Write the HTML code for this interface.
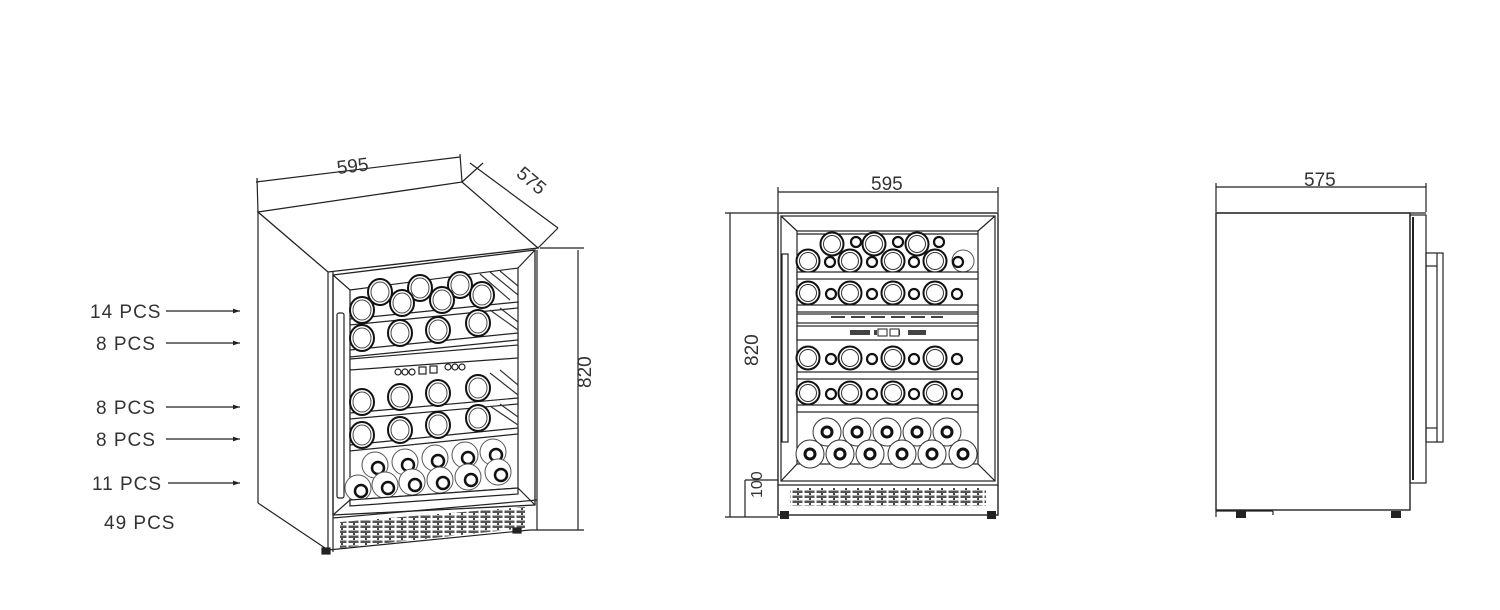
<!DOCTYPE html>
<html><head><meta charset="utf-8"><style>
html,body{margin:0;padding:0;background:#fff}
svg{display:block}
text{font-family:"Liberation Sans",sans-serif;fill:#333}
</style></head><body>
<svg width="1500" height="610" viewBox="0 0 1500 610" xmlns="http://www.w3.org/2000/svg">
<defs>
<g id="b"><circle r="11.5" fill="#fff" stroke="#111" stroke-width="2"/><circle r="8.5" fill="none" stroke="#333" stroke-width="1"/></g>
<g id="s"><circle r="5" fill="#fff" stroke="#111" stroke-width="2.2"/></g>
<g id="n"><circle r="14" fill="#fff" stroke="#333" stroke-width="1"/><circle r="5" fill="#fff" stroke="#111" stroke-width="3"/></g>
<g id="e"><ellipse rx="12" ry="13" fill="#fff" stroke="#111" stroke-width="2"/><ellipse rx="9" ry="10" fill="none" stroke="#444" stroke-width="1"/></g>
<g id="k"><circle r="13" fill="#fff" stroke="#555" stroke-width="1"/><circle cx="3" cy="3" r="6" fill="#fff" stroke="#111" stroke-width="2.5"/></g>
<pattern id="gr" width="12" height="5" patternUnits="userSpaceOnUse"><rect x="0.5" y="0.5" width="10" height="2.5" fill="#555"/><rect x="5" y="3" width="2" height="2" fill="#444"/></pattern>
<marker id="ar" markerWidth="6" markerHeight="4" refX="6" refY="2" orient="auto"><path d="M0,0 L6,2 L0,4z" fill="#222"/></marker>
</defs>
<g fill="none" stroke="#222" stroke-width="1.2">

<!-- ===== LEFT ISO VIEW ===== -->
<line x1="256" y1="182" x2="460" y2="157"/>
<line x1="257" y1="178" x2="258" y2="212"/>
<line x1="460" y1="154" x2="462" y2="182"/>
<line x1="470" y1="163" x2="558" y2="228"/>
<line x1="462" y1="182" x2="483" y2="163"/>
<line x1="538" y1="248" x2="558" y2="228"/>
<line x1="578" y1="250" x2="578" y2="530"/>
<line x1="540" y1="248" x2="584" y2="248"/>
<line x1="530" y1="530" x2="584" y2="530"/>
<polygon points="258,212 462,182 538,248 328,272" stroke-width="1.3"/>
<line x1="258" y1="212" x2="258" y2="503"/>
<line x1="258" y1="503" x2="328" y2="550"/>
<line x1="328" y1="272" x2="328" y2="550"/>
<line x1="537" y1="250" x2="537" y2="530"/>
<line x1="328" y1="550" x2="530" y2="530"/>
<line x1="333" y1="552" x2="333" y2="272"/>
<polygon points="333,275 535,250 535,505 333,515" stroke-width="1.3"/>
<polygon points="350,290 518,268 518,488 350,500"/>
<line x1="333" y1="275" x2="350" y2="290"/><line x1="535" y1="250" x2="518" y2="268"/>
<line x1="333" y1="515" x2="350" y2="500"/><line x1="535" y1="505" x2="518" y2="488"/>
<rect x="337" y="313" width="7" height="185" rx="2"/>
<polygon points="350,319 518,302 518,308 350,325" fill="#fff"/>
<polygon points="350,350 518,333 518,340 350,357" fill="#fff"/>
<polygon points="350,359 518,345 518,358 350,370" fill="#fff"/>
<polygon points="350,413 518,398 518,404 350,419" fill="#fff"/>
<polygon points="350,445 518,428 518,434 350,451" fill="#fff"/>
<g stroke="#333">
<line x1="490" y1="272" x2="518" y2="295"/><line x1="500" y1="271" x2="518" y2="286"/><line x1="480" y1="274" x2="510" y2="300"/>
<line x1="490" y1="310" x2="518" y2="330"/><line x1="500" y1="308" x2="518" y2="322"/>
<line x1="490" y1="373" x2="518" y2="395"/><line x1="500" y1="370" x2="518" y2="385"/>
<line x1="490" y1="406" x2="518" y2="425"/><line x1="500" y1="404" x2="518" y2="417"/>
</g>
</g>
<g>
<use href="#e" x="380" y="292"/><use href="#e" x="420" y="288"/><use href="#e" x="460" y="285"/>
<use href="#e" x="362" y="310"/><use href="#e" x="402" y="303"/><use href="#e" x="442" y="300"/><use href="#e" x="482" y="295"/>
<use href="#e" x="362" y="338"/><use href="#e" x="400" y="333"/><use href="#e" x="438" y="330"/><use href="#e" x="478" y="323"/>
<use href="#e" x="362" y="402"/><use href="#e" x="400" y="397"/><use href="#e" x="438" y="393"/><use href="#e" x="478" y="388"/>
<use href="#e" x="362" y="435"/><use href="#e" x="400" y="430"/><use href="#e" x="438" y="425"/><use href="#e" x="478" y="418"/>
<use href="#k" x="375" y="465"/><use href="#k" x="405" y="462"/><use href="#k" x="435" y="458"/><use href="#k" x="465" y="455"/><use href="#k" x="493" y="452"/>
<use href="#k" x="358" y="488"/><use href="#k" x="385" y="485"/><use href="#k" x="412" y="482"/><use href="#k" x="440" y="480"/><use href="#k" x="468" y="477"/><use href="#k" x="498" y="472"/>
</g>
<g fill="none" stroke="#222" stroke-width="1.2">
<circle cx="398" cy="372" r="3"/><circle cx="405" cy="372" r="3"/><circle cx="412" cy="372" r="3"/>
<rect x="419" y="367" width="7" height="7"/><rect x="430" y="366" width="7" height="7"/>
<circle cx="448" cy="367" r="3"/><circle cx="455" cy="367" r="3"/><circle cx="462" cy="367" r="3"/>
<polygon points="350,500 518,488 518,494 350,506" fill="#fff"/>
<polygon points="340,522 525,507 525,528 340,548" fill="url(#gr)" stroke="none"/>
<line x1="333" y1="518" x2="537" y2="500"/>
<rect x="322" y="548" width="8" height="6" fill="#222"/>
<rect x="513" y="528" width="8" height="5" fill="#222"/>
</g>

<g font-size="19" letter-spacing="1">
<text x="90" y="318">14 PCS</text>
<text x="96" y="350">8 PCS</text>
<text x="96" y="414">8 PCS</text>
<text x="96" y="446">8 PCS</text>
<text x="92" y="490">11 PCS</text>
<text x="104" y="529">49 PCS</text>
</g>
<g stroke="#222" stroke-width="1.2" marker-end="url(#ar)">
<line x1="166" y1="311" x2="240" y2="311"/><line x1="166" y1="343" x2="240" y2="343"/>
<line x1="166" y1="407" x2="240" y2="407"/><line x1="166" y1="439" x2="240" y2="439"/>
<line x1="168" y1="483" x2="240" y2="483"/>
</g>
<text x="337" y="172" font-size="19" transform="rotate(-7 355 168)">595</text>
<text x="508" y="185" font-size="19" transform="rotate(40 525 190)">575</text>
<text x="575" y="404" font-size="19" transform="rotate(-90 575 388)">820</text>

<!-- ===== MIDDLE FRONT VIEW ===== -->
<g fill="none" stroke="#222" stroke-width="1.2">
<line x1="778" y1="192" x2="998" y2="192"/><line x1="778" y1="187" x2="778" y2="212"/><line x1="998" y1="187" x2="998" y2="212"/>
<line x1="730" y1="213" x2="730" y2="517"/><line x1="725" y1="213" x2="778" y2="213"/><line x1="725" y1="517" x2="778" y2="517"/>
<line x1="745" y1="480" x2="778" y2="480"/><line x1="745" y1="480" x2="745" y2="517"/>
<rect x="778" y="213" width="220" height="302" stroke-width="1.4"/>
<rect x="781" y="216" width="214" height="265"/>
<rect x="797" y="231" width="181" height="233"/>
<line x1="781" y1="216" x2="797" y2="231"/><line x1="995" y1="216" x2="978" y2="231"/>
<line x1="781" y1="481" x2="797" y2="464"/><line x1="995" y1="481" x2="978" y2="464"/>
<rect x="782" y="254" width="6" height="188"/>
<line x1="797" y1="234" x2="978" y2="234"/>
<line x1="778" y1="485" x2="998" y2="485"/>
</g>
<g>
<use href="#b" x="832" y="244"/><use href="#b" x="874" y="244"/><use href="#b" x="917" y="244"/>
<use href="#s" x="856" y="242"/><use href="#s" x="898" y="242"/><use href="#s" x="939" y="242"/>
<use href="#b" x="808" y="261"/><use href="#b" x="850" y="261"/><use href="#b" x="893" y="261"/><use href="#b" x="935" y="261"/><circle cx="963" cy="261" r="11" fill="#fff" stroke="#555"/>
<use href="#s" x="830" y="262"/><use href="#s" x="872" y="262"/><use href="#s" x="914" y="262"/><use href="#s" x="958" y="262"/>
</g>
<g fill="#fff" stroke="#222" stroke-width="1.2"><rect x="797" y="272" width="181" height="7"/></g>
<g>
<use href="#b" x="808" y="293"/><use href="#b" x="850" y="293"/><use href="#b" x="893" y="293"/><use href="#b" x="935" y="293"/>
<use href="#s" x="831" y="294"/><use href="#s" x="872" y="294"/><use href="#s" x="914" y="294"/><use href="#s" x="957" y="294"/>
</g>
<g fill="#fff" stroke="#222" stroke-width="1.2">
<rect x="797" y="305" width="181" height="7"/>
<rect x="797" y="314" width="181" height="9"/>
<rect x="797" y="326" width="181" height="14"/>
</g>
<g fill="#444">
<rect x="831" y="316" width="14" height="2"/><rect x="851" y="316" width="14" height="2"/><rect x="871" y="316" width="14" height="2"/><rect x="891" y="316" width="14" height="2"/><rect x="911" y="316" width="14" height="2"/><rect x="931" y="316" width="12" height="2"/>
<rect x="850" y="330" width="20" height="5"/><rect x="874" y="330" width="3" height="5"/><rect x="897" y="330" width="3" height="5"/><rect x="908" y="330" width="18" height="5"/>
</g>
<g fill="none" stroke="#222" stroke-width="1"><rect x="878" y="329" width="9" height="7" fill="#fff"/><rect x="890" y="329" width="9" height="7" fill="#fff"/></g>
<g>
<use href="#b" x="808" y="358"/><use href="#b" x="850" y="358"/><use href="#b" x="893" y="358"/><use href="#b" x="935" y="358"/>
<use href="#s" x="831" y="359"/><use href="#s" x="872" y="359"/><use href="#s" x="914" y="359"/><use href="#s" x="957" y="359"/>
</g>
<g fill="#fff" stroke="#222" stroke-width="1.2"><rect x="797" y="372" width="181" height="7"/></g>
<g>
<use href="#b" x="808" y="393"/><use href="#b" x="850" y="393"/><use href="#b" x="893" y="393"/><use href="#b" x="935" y="393"/>
<use href="#s" x="831" y="394"/><use href="#s" x="872" y="394"/><use href="#s" x="914" y="394"/><use href="#s" x="957" y="394"/>
</g>
<g fill="#fff" stroke="#222" stroke-width="1.2"><rect x="797" y="405" width="181" height="7"/></g>
<g>
<use href="#n" x="827" y="432"/><use href="#n" x="857" y="432"/><use href="#n" x="887" y="432"/><use href="#n" x="917" y="432"/><use href="#n" x="947" y="432"/>
<use href="#n" x="810" y="454"/><use href="#n" x="840" y="454"/><use href="#n" x="870" y="454"/><use href="#n" x="902" y="454"/><use href="#n" x="932" y="454"/><use href="#n" x="963" y="454"/>
</g>
<rect x="790" y="488" width="196" height="18" fill="url(#gr)"/>
<rect x="780" y="511" width="9" height="8" fill="#222"/><rect x="987" y="511" width="9" height="8" fill="#222"/>
<text x="871" y="190" font-size="19">595</text>
<text x="742" y="382" font-size="19" transform="rotate(-90 742 366)">820</text>
<text x="750" y="510" font-size="16" transform="rotate(-90 750 498)">100</text>

<!-- ===== RIGHT SIDE VIEW ===== -->
<g fill="none" stroke="#222" stroke-width="1.2">
<line x1="1216" y1="187" x2="1426" y2="187"/><line x1="1216" y1="183" x2="1216" y2="212"/><line x1="1426" y1="183" x2="1426" y2="212"/>
<rect x="1216" y="213" width="194" height="297" stroke-width="1.4"/>
<line x1="1216" y1="213" x2="1426" y2="213"/>
<rect x="1410" y="215" width="16" height="268"/>
<line x1="1413" y1="217" x2="1413" y2="480" stroke-width="2"/>
<rect x="1426" y="253" width="17" height="189"/>
<line x1="1426" y1="266" x2="1437" y2="266"/><line x1="1437" y1="253" x2="1437" y2="442"/><line x1="1426" y1="428" x2="1437" y2="428"/>
<line x1="1216" y1="510" x2="1216" y2="517"/><line x1="1216" y1="511" x2="1273" y2="511"/><line x1="1273" y1="511" x2="1273" y2="515"/>
</g>
<rect x="1236" y="511" width="10" height="7" fill="#222"/><rect x="1391" y="511" width="10" height="7" fill="#222"/>
<text x="1304" y="186" font-size="19">575</text>
</svg>
</body></html>
